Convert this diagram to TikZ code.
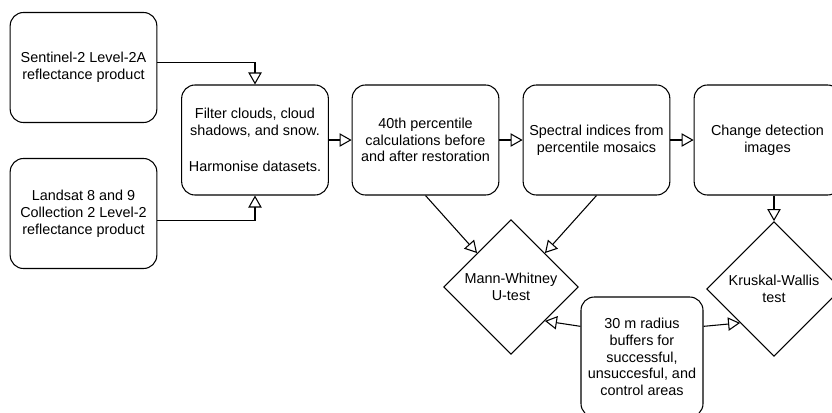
\documentclass[tikz,border=0pt]{standalone}
\usepackage{fontspec}
\setmainfont{Liberation Sans}
\usetikzlibrary{arrows.meta,shapes.geometric}

\begin{document}
\begin{tikzpicture}[x=0.75pt, y=-0.75pt,
    box/.style={draw, rounded corners=10pt, line width=0.8pt, align=center,
        minimum width=110pt, minimum height=82.5pt, inner sep=2pt,
        font=\fontsize{10.8}{12.6}\selectfont},
    test/.style={draw, diamond, aspect=1, line width=0.8pt, align=center,
        minimum width=101pt, minimum height=101pt, inner sep=0pt,
        font=\fontsize{10.8}{12.6}\selectfont},
    flow/.style={draw, line width=0.8pt, -{Triangle[open, length=9pt, width=10pt]}}]
\useasboundingbox (0,0) rectangle (832,412);
% Input products
\node[box] (sentinel) at (83.5,67.5) {Sentinel-2 Level-2A\\reflectance product};
\node[box] (landsat) at (83.5,213.5) {Landsat 8 and 9\\Collection 2 Level-2\\reflectance product};
% Processing chain
\node[box] (filter) at (255,140) {Filter clouds, cloud\\shadows, and snow.\\[15pt]Harmonise datasets.};
\node[box] (pct) at (425.5,140) {40th percentile\\calculations before\\and after restoration};
\node[box] (spectral) at (596.5,140) {Spectral indices from\\percentile mosaics};
\node[box] (change) at (767.5,140) {Change detection\\images};
% Statistical tests
\node[test] (mw) at (511,287) {Mann-Whitney\\U-test};
\node[test] (kw) at (774,289) {Kruskal-Wallis\\test};
\node[box, minimum width=91.5pt, minimum height=90pt] (buffer) at (642,357)
    {30 m radius\\buffers for\\successful,\\unsuccesful, and\\control areas};
% Connectors
\draw[flow] ([yshift=4pt]sentinel.east) -| (filter.north);
\draw[flow] ([yshift=-5pt]landsat.east) -| (filter.south);
\draw[flow] (filter) -- (pct);
\draw[flow] (pct) -- (spectral);
\draw[flow] (spectral) -- (change);
\draw[flow] (pct.south) -- (mw.north west);
\draw[flow] (spectral.south) -- (mw.north east);
\draw[flow] (change.south -| kw.north) -- (kw.north);
\draw[flow] ([yshift=23pt]buffer.west) -- (mw.south east);
\draw[flow] ([yshift=23pt]buffer.east) -- (kw.south west);
\end{tikzpicture}
\end{document}
